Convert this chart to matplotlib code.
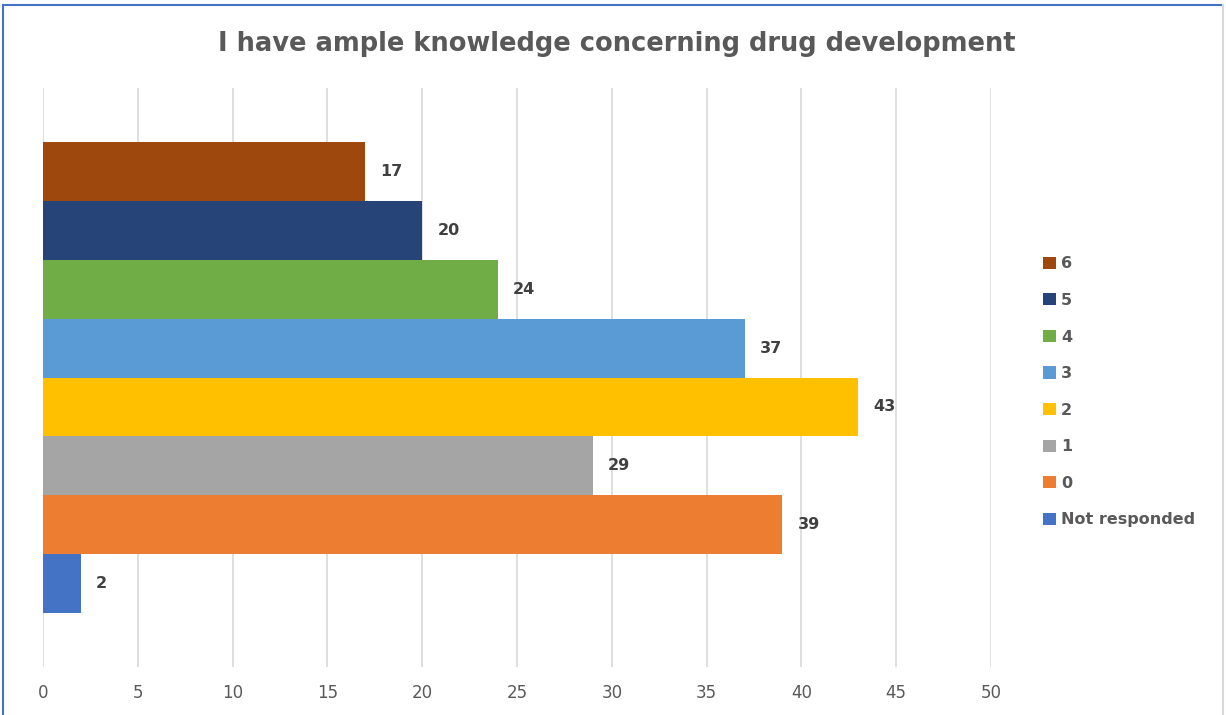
import matplotlib.pyplot as plt
from matplotlib.lines import Line2D
from matplotlib.patches import Patch

# survey answers, top bar first
labels = ['6', '5', '4', '3', '2', '1', '0', 'Not responded']
counts = [17, 20, 24, 37, 43, 29, 39, 2]
colours = ['#9E480E', '#264478', '#70AD47', '#5B9BD5',
           '#FFC000', '#A5A5A5', '#ED7D31', '#4472C4']
xticks = [0, 5, 10, 15, 20, 25, 30, 35, 40, 45, 50]

fig = plt.figure(figsize=(12.26, 7.15), dpi=100)
ax = fig.add_axes([43 / 1226, 48 / 715, (991 - 43) / 1226, (667 - 88) / 715])

n = len(counts)
pos = [n - 1 - i for i in range(n)]
ax.barh(pos, counts, height=1.0, color=colours, zorder=2)
for p, c in zip(pos, counts):
    ax.text(c + 0.8, p, str(c), va='center', ha='left', fontsize=11.5,
            fontweight='bold', color='#404040')

ax.set_xlim(0, 50)
ax.set_ylim(-0.5 - 0.92, n - 0.5 + 0.92)
ax.set_xticks(xticks)
ax.set_yticks([])
ax.grid(True, axis='x', color='#D9D9D9', linewidth=1.2, zorder=0)
for s in ax.spines.values():
    s.set_visible(False)
ax.tick_params(axis='x', length=0, pad=12, labelsize=12, labelcolor='#595959')

handles = [Patch(facecolor=col, edgecolor='none') for col in colours]
fig.legend(handles, labels, loc='upper left', bbox_to_anchor=(1029 / 1226, 1 - 242 / 715),
           frameon=False, handlelength=0.8, handleheight=0.8,
           handletextpad=0.3, labelspacing=1.35, labelcolor='#595959',
           prop={'weight': 'bold', 'size': 11.5})

fig.text(617 / 1226, 1 - 44 / 715, 'I have ample knowledge concerning drug development',
         ha='center', va='center', fontsize=18.5, fontweight='bold', color='#595959')

# chart frame
fig.add_artist(Line2D([3 / 1226, 3 / 1226], [0, 1 - 5 / 715], color='#4472C4', lw=1.5))
fig.add_artist(Line2D([3 / 1226, 1223 / 1226], [1 - 5 / 715, 1 - 5 / 715], color='#4472C4', lw=1.5))
fig.add_artist(Line2D([1223 / 1226, 1223 / 1226], [0, 1 - 5 / 715], color='#D9D9D9', lw=1.5))

fig.savefig('out.png', dpi=100)
